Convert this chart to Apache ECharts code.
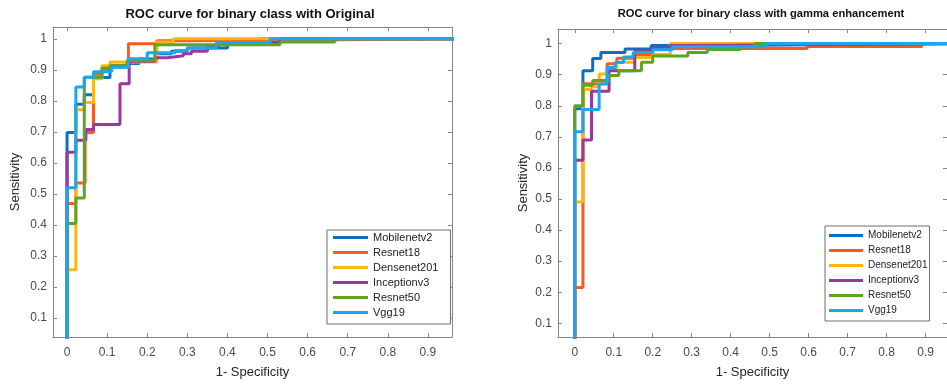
<!DOCTYPE html>
<html><head><meta charset="utf-8">
<script src="https://cdn.jsdelivr.net/npm/echarts@6/dist/echarts.min.js"></script>
<style>html,body{margin:0;padding:0;background:#fff}#c{width:947px;height:384px}</style>
</head><body><div id="c"></div>
<script>
// ---- names, colours, ticks ----
const modelNames = ['Mobilenetv2', 'Resnet18', 'Densenet201', 'Inceptionv3', 'Resnet50', 'Vgg19'];
const modelColors = ['#0b6fc4', '#fb5a1c', '#fdb514', '#9a389c', '#5ba523', '#19a7ee'];
const xTickValues = [0, 0.1, 0.2, 0.3, 0.4, 0.5, 0.6, 0.7, 0.8, 0.9];
const yTickValues = [0.1, 0.2, 0.3, 0.4, 0.5, 0.6, 0.7, 0.8, 0.9, 1];
const titles = ['ROC curve for binary class with Original', 'ROC curve for binary class with gamma enhancement'];

// ---- ROC points (1-specificity, sensitivity) : Original ----
const origMobilenetFpr = [0, 0, 0.022, 0.043, 0.066, 0.107, 0.153, 0.18, 0.22, 0.26, 0.3, 0.4, 0.48, 1];
const origMobilenetTpr = [0, 0.698, 0.789, 0.82, 0.875, 0.91, 0.92, 0.935, 0.952, 0.96, 0.97, 0.985, 1, 1];
const origResnet18Fpr = [0, 0, 0.022, 0.045, 0.066, 0.087, 0.11, 0.153, 0.224, 0.3, 1];
const origResnet18Tpr = [0, 0.469, 0.535, 0.698, 0.886, 0.9, 0.915, 0.984, 0.994, 1, 1];
const origDensenetFpr = [0, 0, 0.022, 0.043, 0.066, 0.087, 0.107, 0.224, 0.265, 1];
const origDensenetTpr = [0, 0.256, 0.771, 0.795, 0.871, 0.913, 0.925, 0.99, 1, 1];
const origInceptionFpr = [0, 0, 0.022, 0.047, 0.066, 0.132, 0.155, 0.219, 0.25, 0.29, 0.31, 0.35, 0.377, 0.53, 1];
const origInceptionTpr = [0, 0.634, 0.673, 0.708, 0.724, 0.855, 0.928, 0.939, 0.945, 0.952, 0.96, 0.976, 0.988, 1, 1];
const origResnet50Fpr = [0, 0, 0.022, 0.043, 0.087, 0.107, 0.15, 0.219, 0.531, 0.668, 1];
const origResnet50Tpr = [0, 0.405, 0.487, 0.876, 0.905, 0.913, 0.93, 0.981, 0.99, 1, 1];
const origVggFpr = [0, 0, 0.022, 0.043, 0.066, 0.111, 0.153, 0.2, 0.27, 0.3, 0.373, 0.506, 1];
const origVggTpr = [0, 0.52, 0.845, 0.876, 0.894, 0.908, 0.936, 0.955, 0.962, 0.97, 0.988, 1, 1];

// ---- ROC points : gamma enhancement ----
const gamMobilenetFpr = [0, 0, 0.021, 0.046, 0.067, 0.129, 0.196, 0.221, 1];
const gamMobilenetTpr = [0, 0.79, 0.913, 0.952, 0.971, 0.983, 0.994, 1, 1];
const gamResnet18Fpr = [0, 0, 0.021, 0.083, 0.108, 0.15, 0.2, 0.596, 0.89, 1];
const gamResnet18Tpr = [0, 0.215, 0.871, 0.935, 0.953, 0.965, 0.984, 0.991, 1, 1];
const gamDensenetFpr = [0, 0, 0.021, 0.042, 0.0625, 0.083, 0.108, 0.154, 0.2, 0.245, 1];
const gamDensenetTpr = [0, 0.49, 0.852, 0.861, 0.902, 0.92, 0.94, 0.955, 0.965, 1, 1];
const gamInceptionFpr = [0, 0, 0.021, 0.043, 0.088, 0.154, 0.2, 0.245, 0.3, 1];
const gamInceptionTpr = [0, 0.625, 0.69, 0.847, 0.913, 0.976, 0.985, 0.994, 1, 1];
const gamResnet50Fpr = [0, 0, 0.021, 0.046, 0.088, 0.113, 0.171, 0.2, 0.29, 0.34, 0.425, 0.4625, 1];
const gamResnet50Tpr = [0, 0.8, 0.866, 0.881, 0.897, 0.913, 0.94, 0.96, 0.971, 0.981, 0.99, 1, 1];
const gamVggFpr = [0, 0, 0.021, 0.0625, 0.083, 0.104, 0.125, 0.15, 0.2, 0.25, 0.49, 1];
const gamVggTpr = [0, 0.716, 0.788, 0.87, 0.923, 0.939, 0.957, 0.971, 0.98, 0.99, 1, 1];

const charts = [
  { fpr: [origMobilenetFpr, origResnet18Fpr, origDensenetFpr, origInceptionFpr, origResnet50Fpr, origVggFpr],
    tpr: [origMobilenetTpr, origResnet18Tpr, origDensenetTpr, origInceptionTpr, origResnet50Tpr, origVggTpr],
    grid: { left: 53, top: 27, width: 399, height: 317 }, xMin: -0.035, xMax: 0.96, yMin: 0.039, yMax: 1.038,
    titleX: 250, titleSize: 13, yNameGap: 31,
    legend: { left: 327, top: 230, padding: [0, 12, 4, 6], itemWidth: 35, fontSize: 11 } },
  { fpr: [gamMobilenetFpr, gamResnet18Fpr, gamDensenetFpr, gamInceptionFpr, gamResnet50Fpr, gamVggFpr],
    tpr: [gamMobilenetTpr, gamResnet18Tpr, gamDensenetTpr, gamInceptionTpr, gamResnet50Tpr, gamVggTpr],
    grid: { left: 558, top: 29, width: 399, height: 315 }, xMin: -0.043, xMax: 0.955, yMin: 0.056, yMax: 1.047,
    titleX: 761, titleSize: 11.2, yNameGap: 28,
    legend: { left: 825, top: 226, padding: [2, 2, 3, 4], itemWidth: 34, fontSize: 10 } }
];

const axisColor = '#868686';
const labelColor = '#4a4a4a';
const baseFont = 'Liberation Sans, Arial, sans-serif';
const option = { animation: false, backgroundColor: '#fff', title: [], grid: [], xAxis: [], yAxis: [], legend: [], series: [] };

charts.forEach((c, ci) => {
  option.title.push({ text: titles[ci], left: c.titleX, top: 8, textAlign: 'center', padding: 0,
    textStyle: { fontFamily: baseFont, fontSize: c.titleSize, fontWeight: 'bold', color: '#111' } });
  option.grid.push(Object.assign({ containLabel: false }, c.grid));
  const tick = (vals) => ({ show: true, inside: true, length: 4, customValues: vals, lineStyle: { color: axisColor } });
  option.xAxis.push({ gridIndex: ci, type: 'value', position: 'bottom', min: c.xMin, max: c.xMax,
    axisLine: { show: true, onZero: false, lineStyle: { color: axisColor, width: 1 } },
    axisTick: tick(xTickValues),
    axisLabel: { customValues: xTickValues, color: labelColor, fontSize: 12, margin: 10, fontFamily: baseFont },
    splitLine: { show: false },
    name: '1- Specificity', nameLocation: 'middle', nameGap: 29,
    nameTextStyle: { color: '#262626', fontSize: 13, fontFamily: baseFont } });
  option.xAxis.push({ gridIndex: ci, type: 'value', position: 'top', min: c.xMin, max: c.xMax,
    axisLine: { show: true, onZero: false, lineStyle: { color: axisColor, width: 1 } },
    axisTick: tick(xTickValues), axisLabel: { show: false }, splitLine: { show: false } });
  option.yAxis.push({ gridIndex: ci, type: 'value', position: 'left', min: c.yMin, max: c.yMax,
    axisLine: { show: true, onZero: false, lineStyle: { color: axisColor, width: 1 } },
    axisTick: tick(yTickValues),
    axisLabel: { customValues: yTickValues, color: labelColor, fontSize: 12, margin: 6, fontFamily: baseFont },
    splitLine: { show: false },
    name: 'Sensitivity', nameLocation: 'middle', nameGap: c.yNameGap,
    nameTextStyle: { color: '#262626', fontSize: 13, fontFamily: baseFont } });
  option.yAxis.push({ gridIndex: ci, type: 'value', position: 'right', min: c.yMin, max: c.yMax,
    axisLine: { show: true, onZero: false, lineStyle: { color: axisColor, width: 1 } },
    axisTick: tick(yTickValues), axisLabel: { show: false }, splitLine: { show: false } });
  option.legend.push({ orient: 'vertical', left: c.legend.left, top: c.legend.top, padding: c.legend.padding,
    data: modelNames, icon: 'rect', itemWidth: c.legend.itemWidth, itemHeight: 3, itemGap: 0,
    selectedMode: false, borderColor: '#6e6e6e', borderWidth: 1, backgroundColor: '#fff',
    textStyle: { fontSize: c.legend.fontSize, lineHeight: 15, color: '#222', fontFamily: baseFont } });
  modelNames.forEach((name, mi) => {
    option.series.push({ name, type: 'line', xAxisIndex: ci * 2, yAxisIndex: ci * 2, step: 'end',
      showSymbol: false, symbol: 'none', clip: true,
      data: c.fpr[mi].map((x, i) => [x, c.tpr[mi][i]]),
      itemStyle: { color: modelColors[mi] },
      lineStyle: { color: modelColors[mi], width: 3 } });
  });
});

const chart = echarts.init(document.getElementById('c'), null, { renderer: 'canvas' });
chart.setOption(option);
</script></body></html>
